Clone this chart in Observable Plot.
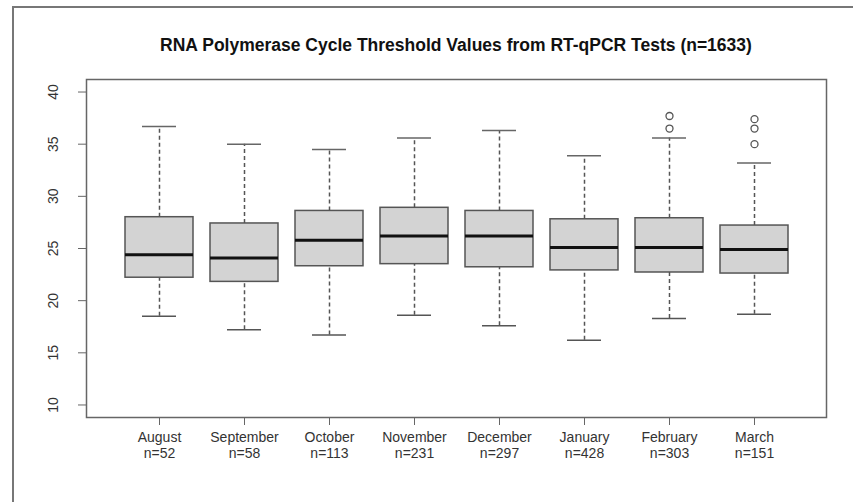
<!DOCTYPE html>
<html>
<head>
<meta charset="utf-8">
<script src="https://cdn.jsdelivr.net/npm/d3@7"></script>
<script src="https://cdn.jsdelivr.net/npm/@observablehq/plot@0.6"></script>
<style>
  html, body { margin: 0; padding: 0; background: #fff; overflow: hidden; }
  #wrap { position: relative; width: 853px; height: 502px; overflow: hidden; background: #fff; }
  #outer { position: absolute; left: 12px; top: 6px; width: 900px; height: 600px;
           border-left: 2px solid #777; border-top: 2px solid #777; }
  #title { position: absolute; left: 86px; width: 740px; top: 35px; text-align: center; line-height: 20px;
           font-family: "Liberation Sans", Arial, sans-serif; font-weight: bold; font-size: 17.5px; color: #111; }
  #chart { position: absolute; left: 0; top: 0; }
</style>
</head>
<body>
<div id="wrap">
  <div id="outer"></div>
  <div id="chart"></div>
  <div id="title">RNA Polymerase Cycle Threshold Values from RT-qPCR Tests (n=1633)</div>
</div>
<script>
// Categories and counts
const months = ["August", "September", "October", "November", "December", "January", "February", "March"];
const counts = [52, 58, 113, 231, 297, 428, 303, 151];
// Box-plot statistics
const whiskerLow  = [18.5, 17.2, 16.7, 18.6, 17.6, 16.2, 18.3, 18.7];
const q1          = [22.2, 21.8, 23.3, 23.5, 23.2, 22.9, 22.7, 22.6];
const medians     = [24.4, 24.1, 25.8, 26.2, 26.2, 25.1, 25.1, 24.9];
const q3          = [28.0, 27.4, 28.6, 28.9, 28.6, 27.8, 27.9, 27.2];
const whiskerHigh = [36.7, 35.0, 34.5, 35.6, 36.3, 33.9, 35.6, 33.2];
// Outliers
const outlierMonths = ["February", "February", "March", "March", "March"];
const outlierValues = [37.7, 36.5, 37.4, 36.5, 35.0];
// Axis ticks
const yTicks = [10, 15, 20, 25, 30, 35, 40];

const stats = months.map((m, i) => ({
  month: m, lo: whiskerLow[i], q1: q1[i], med: medians[i], q3: q3[i], hi: whiskerHigh[i]
}));
const outliers = outlierMonths.map((m, i) => ({month: m, value: outlierValues[i]}));
const countOf = new Map(months.map((m, i) => [m, counts[i]]));

const chart = Plot.plot({
  width: 853,
  height: 502,
  marginLeft: 86,
  marginRight: 27,
  marginTop: 79,
  marginBottom: 85,
  style: {fontFamily: "'Liberation Sans', Arial, sans-serif", fontSize: "14px", background: "transparent", color: "#222"},
  x: {type: "band", domain: months, paddingInner: 0.2, paddingOuter: 0.42, label: null},
  y: {domain: [8.8, 41.2], label: null},
  marks: [
    Plot.ruleX(stats, {x: "month", y1: "q3", y2: "hi", stroke: "#555", strokeWidth: 1.5, strokeDasharray: "4,3"}),
    Plot.ruleX(stats, {x: "month", y1: "lo", y2: "q1", stroke: "#555", strokeWidth: 1.5, strokeDasharray: "4,3"}),
    Plot.tickY(stats, {x: "month", y: "hi", insetLeft: 17, insetRight: 17, stroke: "#666", strokeWidth: 1.5}),
    Plot.tickY(stats, {x: "month", y: "lo", insetLeft: 17, insetRight: 17, stroke: "#555", strokeWidth: 1.5}),
    Plot.barY(stats, {x: "month", y1: "q1", y2: "q3", fill: "#d3d3d3", stroke: "#555", strokeWidth: 1.5}),
    Plot.tickY(stats, {x: "month", y: "med", stroke: "#111", strokeWidth: 3}),
    Plot.dot(outliers, {x: "month", y: "value", r: 3.5, stroke: "#555", fill: "none", strokeWidth: 1.3}),
    Plot.frame({stroke: "#666", strokeWidth: 1.5}),
    Plot.axisY({ticks: yTicks, tickSize: 8, tickPadding: 21, tickRotate: -90, stroke: "#666", fill: "#333", fontSize: 14}),
    Plot.axisX({tickSize: 8, tickPadding: 5, stroke: "#666", fill: "#333", fontSize: 14, lineHeight: 1.15,
                tickFormat: (d) => `${d}\nn=${countOf.get(d)}`})
  ]
});
document.getElementById("chart").append(chart);
</script>
</body>
</html>
